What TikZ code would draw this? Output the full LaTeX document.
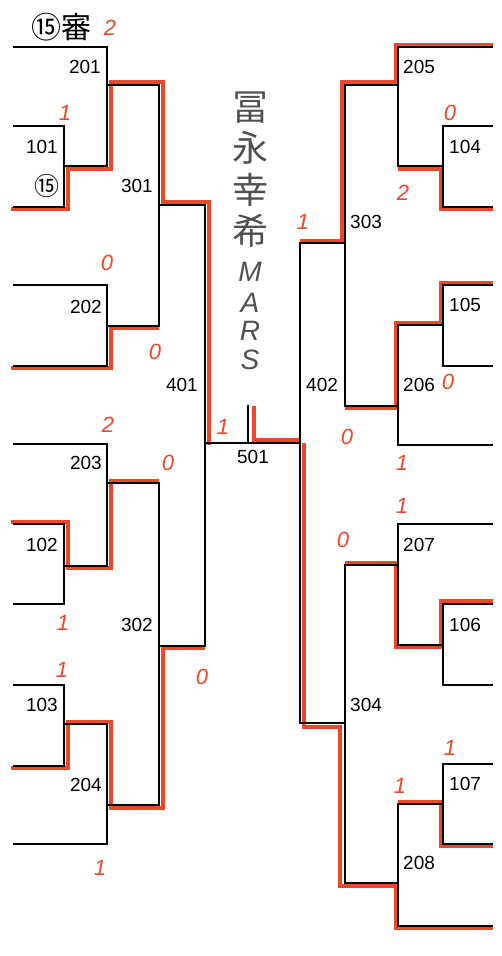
\documentclass[tikz,border=0pt]{standalone}
\usepackage{fontspec}
\setmainfont{Liberation Sans}
\newfontfamily\jpfont{Noto Sans CJK JP}
\usepackage{tikz}
\usetikzlibrary{positioning}
\definecolor{pencil}{RGB}{234,72,40}
\definecolor{graphite}{RGB}{80,80,80}

\begin{document}
\begin{tikzpicture}[
  x = 1pt, y = -1pt,
  % one unit = one pixel of the scanned sheet, y grows downwards
  bline/.style  = {draw, line width=1.7pt},
  rline/.style  = {draw=pencil, line width=4pt},
  num/.style    = {inner sep=0pt, font=\fontsize{19}{21}\selectfont},
  numL/.style   = {num, anchor=east},
  numR/.style   = {num, anchor=west},
  score/.style  = {inner sep=0pt, text=pencil,
                   font=\fontsize{22}{24}\selectfont\itshape},
  jp/.style     = {inner sep=0pt, font=\jpfont\fontsize{30}{32}\selectfont},
  hand/.style   = {inner sep=0pt, text=graphite,
                   font=\jpfont\fontsize{36}{38}\selectfont},
  handL/.style  = {inner sep=0pt, text=graphite,
                   font=\fontsize{28}{30}\selectfont\itshape},
]

\fill[white] (0,0) rectangle (501,956);
\useasboundingbox (0,0) rectangle (501,956);

% ── Winning lines (red pencil) ───────────────────────────────────────────────
\draw[rline] (11,209) -- (68,209) -- (68,169) -- (111,169) -- (111,82)
             -- (163,82) -- (163,202) -- (209,202) -- (209,445);
\draw[rline] (11,368) -- (111,368) -- (111,328) -- (159,328);
\draw[rline] (11,522) -- (68,522) -- (68,568) -- (111,568) -- (111,481)
             -- (159,481);
\draw[rline] (11,768) -- (68,768) -- (68,722) -- (111,722) -- (111,808)
             -- (163,808) -- (163,648) -- (205,648);

\draw[rline] (493,45) -- (396,45) -- (396,82) -- (342,82) -- (342,241)
             -- (300,241);
\draw[rline] (493,209) -- (441,209) -- (441,169) -- (398,169);
\draw[rline] (493,283) -- (441,283) -- (441,323) -- (396,323) -- (396,408)
             -- (345,408);
\draw[rline] (493,601) -- (441,601) -- (441,647) -- (396,647) -- (396,563)
             -- (345,563);
\draw[rline] (493,846) -- (441,846) -- (441,802) -- (398,802);
\draw[rline] (304,443) -- (304,727) -- (340,727) -- (340,886) -- (396,886)
             -- (396,928) -- (493,928);
\draw[rline] (254,406) -- (254,440) -- (300,440);

% ── Bracket, left half ───────────────────────────────────────────────────────
\draw[bline] (13,47) -- (107,47) -- (107,166) -- (64,166);
\draw[bline] (13,126) -- (64,126) -- (64,207) -- (13,207);
\draw[bline] (107,85) -- (159,85) -- (159,326) -- (107,326);
\draw[bline] (13,285) -- (107,285) -- (107,366) -- (13,366);
\draw[bline] (159,205) -- (205,205) -- (205,646) -- (159,646);
\draw[bline] (13,444) -- (107,444) -- (107,566) -- (64,566);
\draw[bline] (13,524) -- (64,524) -- (64,604) -- (13,604);
\draw[bline] (107,483) -- (159,483) -- (159,805) -- (107,805);
\draw[bline] (13,685) -- (64,685) -- (64,766) -- (13,766);
\draw[bline] (64,724) -- (107,724) -- (107,844) -- (13,844);

% ── Final ────────────────────────────────────────────────────────────────────
\draw[bline] (205,443) -- (300,443);
\draw[bline] (248,405) -- (248,443);

% ── Bracket, right half ──────────────────────────────────────────────────────
\draw[bline] (493,47) -- (398,47) -- (398,166) -- (443,166);
\draw[bline] (493,126) -- (443,126) -- (443,207) -- (493,207);
\draw[bline] (398,85) -- (345,85) -- (345,406) -- (398,406);
\draw[bline] (493,285) -- (443,285) -- (443,366) -- (493,366);
\draw[bline] (443,325) -- (398,325) -- (398,445) -- (493,445);
\draw[bline] (345,243) -- (300,243) -- (300,723) -- (345,723);
\draw[bline] (493,524) -- (398,524) -- (398,645) -- (443,645);
\draw[bline] (493,604) -- (443,604) -- (443,685) -- (493,685);
\draw[bline] (398,565) -- (345,565) -- (345,883) -- (398,883);
\draw[bline] (493,764) -- (443,764) -- (443,844) -- (493,844);
\draw[bline] (443,804) -- (398,804) -- (398,926) -- (493,926);

% ── Match numbers ────────────────────────────────────────────────────────────
\node[numL] (m201) at (101,67)  {201};
\node[numL] (m101) at (58,147)  {101};
\node[numL] (m301) at (153,186) {301};
\node[numL] (m202) at (102,307) {202};
\node[numL] (m401) at (198,385) {401};
\node[numL] (m203) at (102,463) {203};
\node[numL] (m102) at (58,545)  {102};
\node[numL] (m302) at (153,625) {302};
\node[numL] (m103) at (58,705)  {103};
\node[numL] (m204) at (102,785) {204};
\node[num]  (m501) at (253,457) {501};
\node[numR] (m205) at (403,67)  {205};
\node[numR] (m104) at (449,147) {104};
\node[numR] (m303) at (350,222) {303};
\node[numR] (m105) at (449,305) {105};
\node[numR] (m402) at (306,385) {402};
\node[numR] (m206) at (403,385) {206};
\node[numR] (m207) at (403,545) {207};
\node[numR] (m106) at (449,625) {106};
\node[numR] (m304) at (350,705) {304};
\node[numR] (m107) at (449,784) {107};
\node[numR] (m208) at (403,863) {208};

% referee and seed marks
\node[jp] (judge) at (61,27) {⑮審};
\node[jp, font=\jpfont\fontsize{25}{27}\selectfont] (seed) at (47,186) {⑮};

% ── Team name written down the middle ────────────────────────────────────────
\node[hand]  (c1) at (250,108) {冨};
\node[hand]  (c2) at (250,148) {永};
\node[hand]  (c3) at (250,190) {幸};
\node[hand]  (c4) at (250,231) {希};
\node[handL] (c5) at (250,272) {M};
\node[handL] (c6) at (250,303) {A};
\node[handL] (c7) at (250,331) {R};
\node[handL] (c8) at (250,360) {S};

% ── Scores (red pencil) ──────────────────────────────────────────────────────
\node[score] (s1)  at (110,28)  {2};
\node[score] (s2)  at (65,113)  {1};
\node[score] (s3)  at (107,263) {0};
\node[score] (s4)  at (155,352) {0};
\node[score] (s5)  at (223,427) {1};
\node[score] (s6)  at (108,425) {2};
\node[score] (s7)  at (168,463) {0};
\node[score] (s8)  at (63,623)  {1};
\node[score] (s9)  at (62,670)  {1};
\node[score] (s10) at (202,677) {0};
\node[score] (s11) at (100,868) {1};
\node[score] (s12) at (450,113) {0};
\node[score] (s13) at (403,193) {2};
\node[score] (s14) at (303,222) {1};
\node[score] (s15) at (448,382) {0};
\node[score] (s16) at (347,437) {0};
\node[score] (s17) at (402,463) {1};
\node[score] (s18) at (402,506) {1};
\node[score] (s19) at (343,540) {0};
\node[score] (s20) at (450,748) {1};
\node[score] (s21) at (400,786) {1};

\end{tikzpicture}
\end{document}
